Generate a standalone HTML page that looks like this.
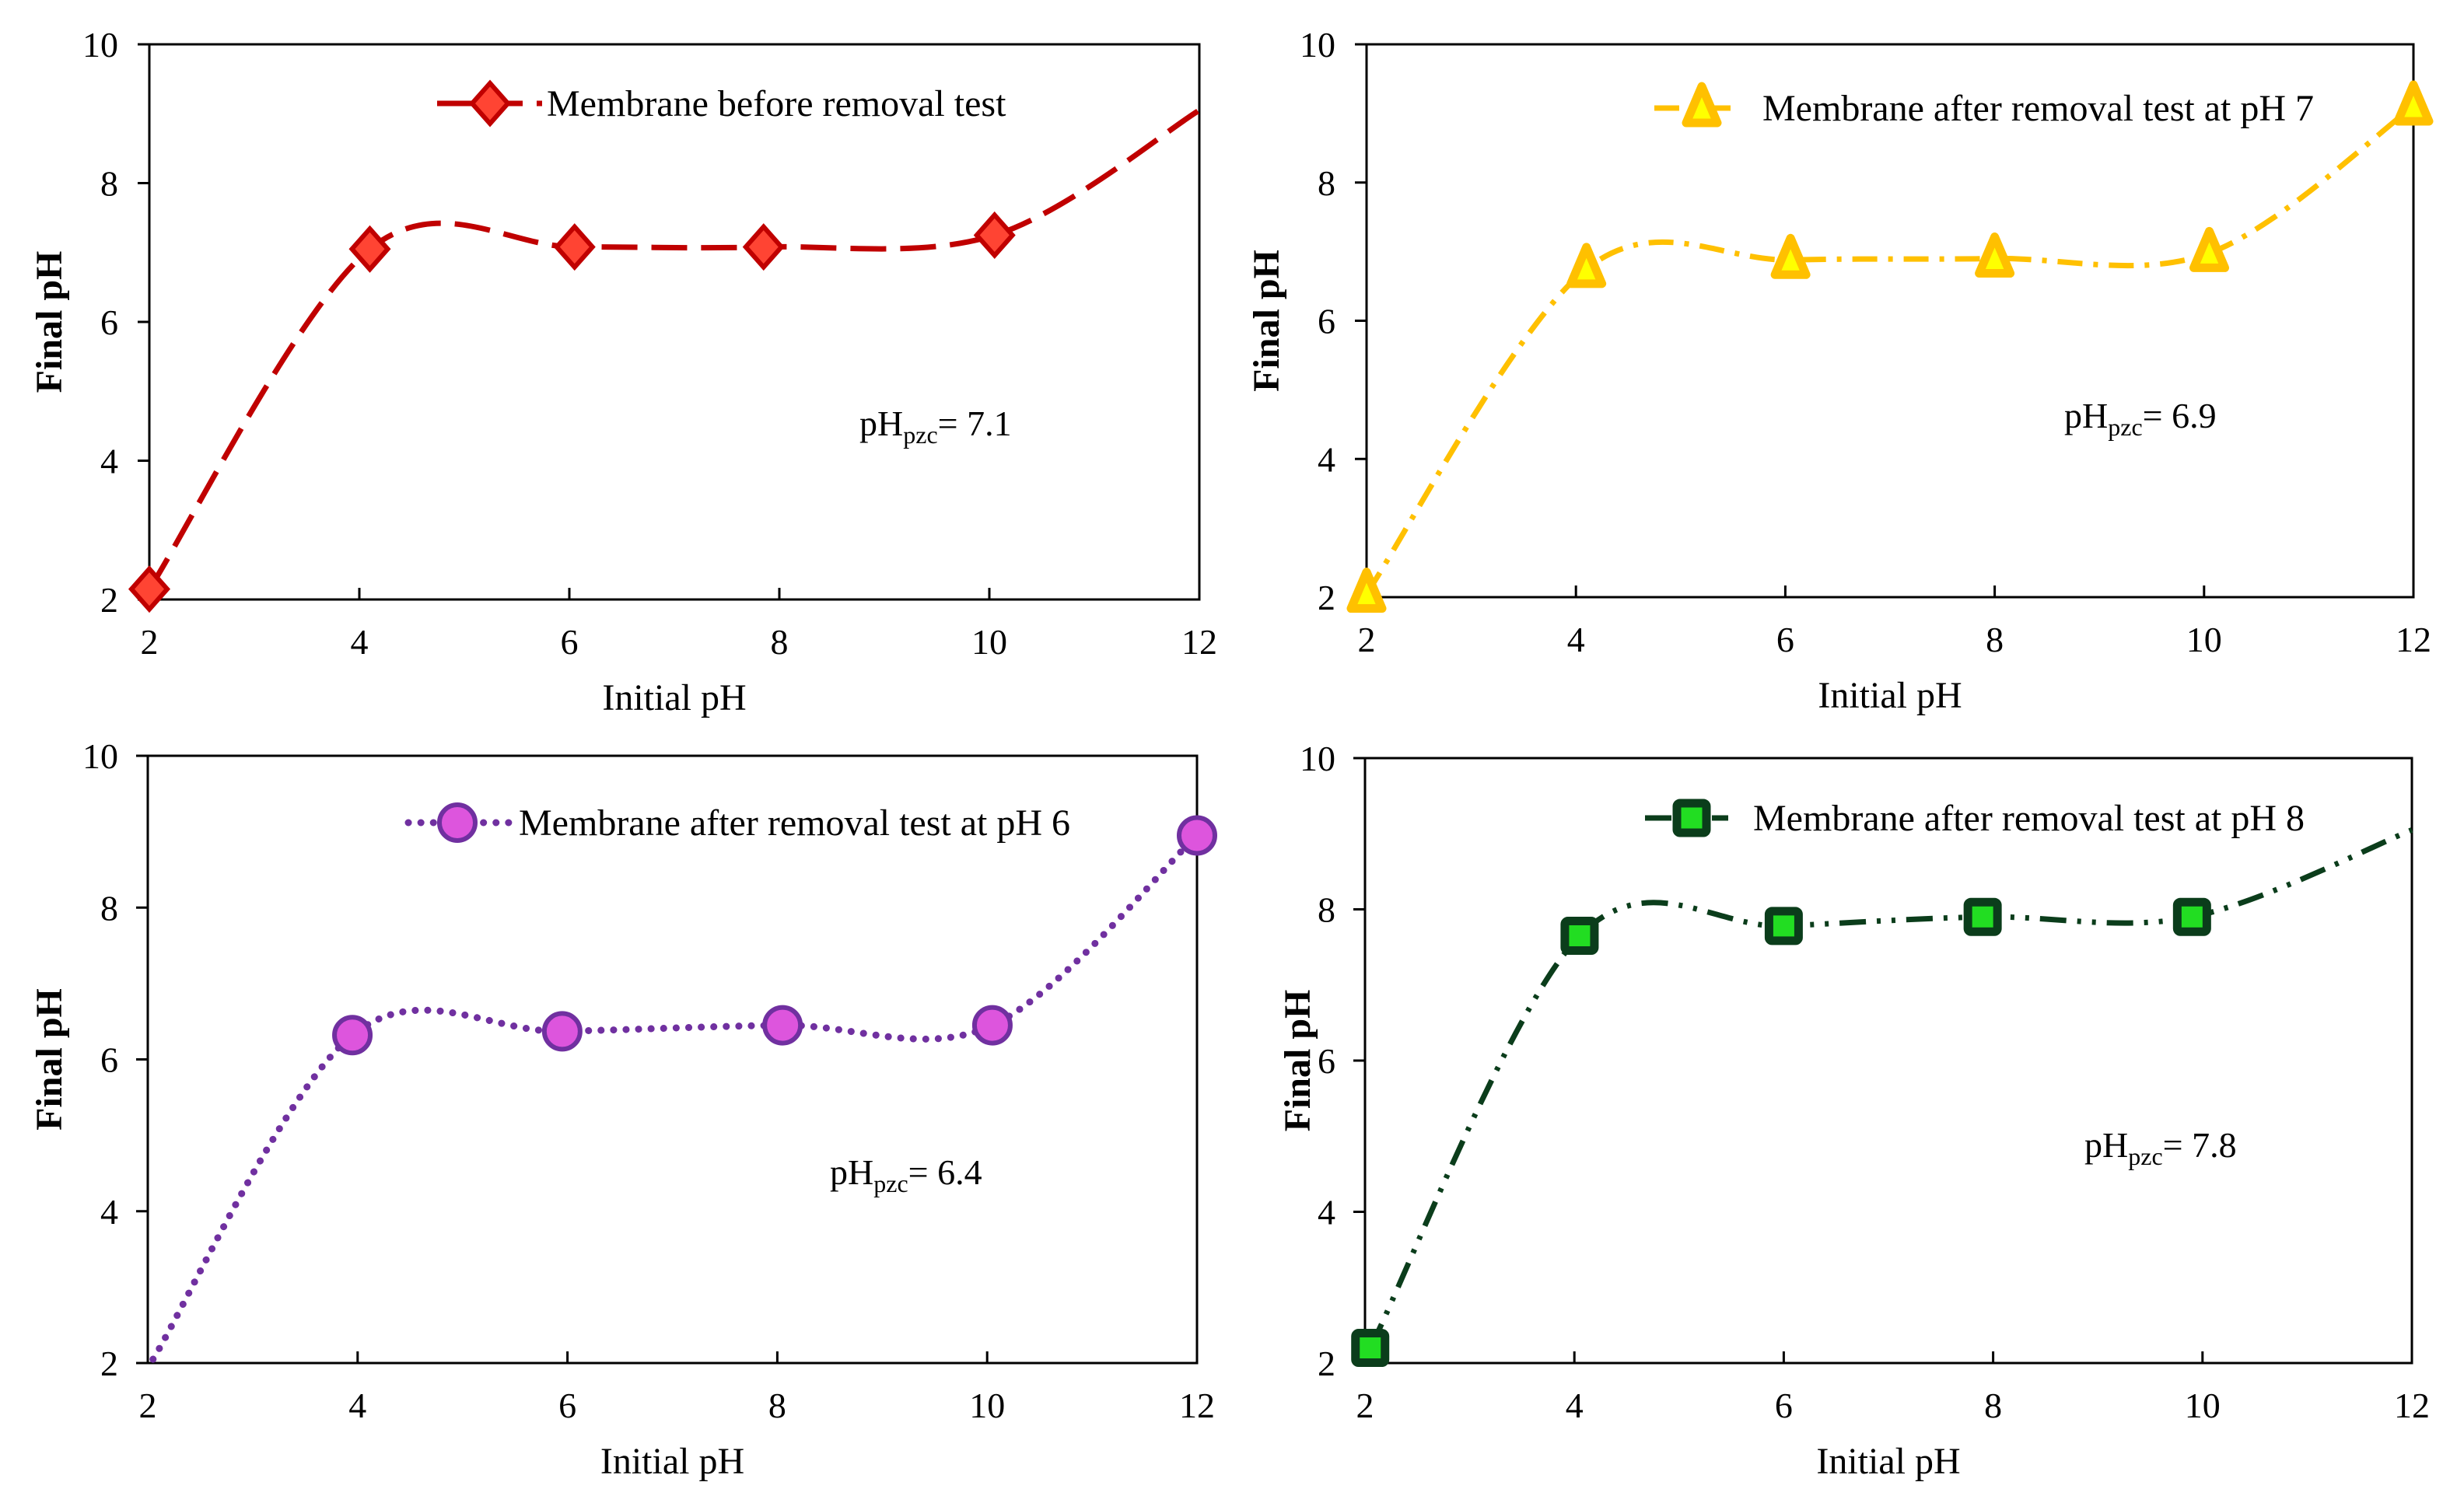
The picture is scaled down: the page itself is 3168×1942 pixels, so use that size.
<!DOCTYPE html>
<html><head><meta charset="utf-8">
<style>
html,body{margin:0;padding:0;background:#fff;}
svg{display:block;}
text{font-family:"Liberation Serif","Times New Roman",serif;fill:#000;}
</style></head>
<body>
<svg id="chart" width="3168" height="1942" viewBox="0 0 3168 1942" xmlns="http://www.w3.org/2000/svg"></svg>
<script>
// ---- data ----
const xTicks = [2,4,6,8,10,12];
const yTicks = [2,4,6,8,10];
const xA = [2,4.1,6.05,7.85,10.05,12];
const yA = [2.15,7.05,7.08,7.08,7.25,9.05];
const mA = [1,1,1,1,1,0];
const xB = [2,4.1,6.05,8.0,10.05,12];
const yB = [2.05,6.75,6.88,6.9,6.98,9.1];
const mB = [1,1,1,1,1,1];
const xC = [2.05,3.95,5.95,8.05,10.05,12];
const yC = [2.05,6.32,6.37,6.45,6.45,8.95];
const mC = [0,1,1,1,1,1];
const xD = [2.05,4.05,6.0,7.9,9.9,12];
const yD = [2.2,7.65,7.78,7.9,7.9,9.05];
const mD = [1,1,1,1,1,0];
const legendLabels = ["Membrane before removal test","Membrane after removal test at pH 7","Membrane after removal test at pH 6","Membrane after removal test at pH 8"];
const pzcValues = ["7.1","6.9","6.4","7.8"];

const NS="http://www.w3.org/2000/svg";
const svg=document.getElementById('chart');
function mk(tag,attrs,parent){const e=document.createElementNS(NS,tag);for(const k in attrs)e.setAttribute(k,attrs[k]);(parent||svg).appendChild(e);return e;}

const panels=[
 {id:'a',x0:192,x1:1542,y0:57,y1:771,xs:xA,ys:yA,ms:mA,color:'#C00000',fill:'#FF4433',marker:'diamond',dash:'46 18',width:7,cap:'butt',
  leg:{x1:562,x2:697,mx:630,y:133,tx:703},pzc:{x:1105,y:560},yt:63,ytr:152},
 {id:'b',x0:1757,x1:3103,y0:57,y1:768,xs:xB,ys:yB,ms:mB,color:'#FFC000',fill:'#FFFF00',marker:'triangle',dash:'32 14 6 14',width:7,cap:'butt',
  leg:{x1:2127,x2:2232,mx:2188,y:139,tx:2266},pzc:{x:2654,y:550},yt:1628,ytr:1717},
 {id:'c',x0:190,x1:1539,y0:972,y1:1753,xs:xC,ys:yC,ms:mC,color:'#7030A0',fill:'#DD55DD',marker:'circle',dash:'0.1 16',width:9,cap:'round',
  leg:{x1:525,x2:657,mx:588,y:1058,tx:667},pzc:{x:1067,y:1523},yt:63,ytr:152},
 {id:'d',x0:1755,x1:3101,y0:975,y1:1753,xs:xD,ys:yD,ms:mD,color:'#0B3D1B',fill:'#22DD22',marker:'square',dash:'34 14 5 14 5 14',width:7,cap:'butt',
  leg:{x1:2115,x2:2222,mx:2175,y:1052,tx:2254},pzc:{x:2680,y:1488},yt:1668,ytr:1717}
];

function drawMarker(g,p,cx,cy,name){
 let e;
 if(p.marker==='diamond') e=mk('polygon',{points:`${cx},${cy-26} ${cx+23},${cy} ${cx},${cy+26} ${cx-23},${cy}`,fill:p.fill,stroke:p.color,'stroke-width':6},g);
 else if(p.marker==='triangle') e=mk('polygon',{points:`${cx},${cy-28} ${cx+20},${cy+19} ${cx-20},${cy+19}`,fill:p.fill,stroke:p.color,'stroke-width':11,'stroke-linejoin':'round'},g);
 else if(p.marker==='circle') e=mk('circle',{cx:cx,cy:cy,r:23,fill:p.fill,stroke:p.color,'stroke-width':6},g);
 else e=mk('rect',{x:cx-19,y:cy-19,width:38,height:38,fill:p.fill,stroke:p.color,'stroke-width':11,rx:4},g);
 
 
}

panels.forEach((p,pi)=>{
 const g=mk('g',{});
 
 
 const sx=v=>p.x0+(v-2)/10*(p.x1-p.x0);
 const sy=v=>p.y1-(v-2)/8*(p.y1-p.y0);
 const frame=mk('rect',{x:p.x0,y:p.y0,width:p.x1-p.x0,height:p.y1-p.y0,fill:'none',stroke:'#000','stroke-width':3},g);
 
 
 xTicks.forEach(t=>{
  const X=sx(t);
  const tk=mk('line',{x1:X,x2:X,y1:p.y1,y2:p.y1-15,stroke:'#000','stroke-width':3},g);
  
  
  const lb=mk('text',{x:X,y:p.y1+70,'text-anchor':'middle','font-size':46},g);
  lb.textContent=t;
  
  
 });
 yTicks.forEach(t=>{
  const Y=sy(t);
  const tk=mk('line',{x1:p.x0-15,x2:p.x0,y1:Y,y2:Y,stroke:'#000','stroke-width':3},g);
  
  
  const lb=mk('text',{x:p.ytr,y:Y+16,'text-anchor':'end','font-size':46},g);
  lb.textContent=t;
  
  
 });
 const xt=mk('text',{x:(p.x0+p.x1)/2,y:p.y1+142,'text-anchor':'middle','font-size':48},g);
 xt.textContent='Initial pH';
 
 
 const ym=(p.y0+p.y1)/2;
 const yt=mk('text',{x:p.yt,y:ym,'text-anchor':'middle','font-size':48,'font-weight':'bold',transform:`rotate(-90 ${p.yt} ${ym}) translate(0 16)`},g);
 yt.textContent='Final pH';
 
 
 const pts=p.xs.map((v,i)=>[sx(v),sy(p.ys[i])]);
 let d=`M${pts[0][0]},${pts[0][1]}`;
 const tens=1/3;
 for(let i=0;i<pts.length-1;i++){
  const p0=pts[Math.max(0,i-1)],p1=pts[i],p2=pts[i+1],p3=pts[Math.min(pts.length-1,i+2)];
  const c1=[p1[0]+(p2[0]-p0[0])*tens/2,p1[1]+(p2[1]-p0[1])*tens/2];
  const c2=[p2[0]-(p3[0]-p1[0])*tens/2,p2[1]-(p3[1]-p1[1])*tens/2];
  d+=` C${c1[0]},${c1[1]} ${c2[0]},${c2[1]} ${p2[0]},${p2[1]}`;
 }
 const line=mk('path',{d:d,fill:'none',stroke:p.color,'stroke-width':p.width,'stroke-dasharray':p.dash,'stroke-linecap':p.cap},g);
 
 
 pts.forEach((q,i)=>{ if(p.ms[i]) drawMarker(g,p,q[0],q[1],'data-point'); });
 const lg=mk('g',{},g);
 
 
 const ll=mk('line',{x1:p.leg.x1,x2:p.leg.x2,y1:p.leg.y,y2:p.leg.y,stroke:p.color,'stroke-width':p.width,'stroke-dasharray':p.dash,'stroke-linecap':p.cap},lg);
 
 
 drawMarker(lg,p,p.leg.mx,p.leg.y,'legend-marker');
 const lt=mk('text',{x:p.leg.tx,y:p.leg.y+16,'font-size':48},lg);
 lt.textContent=legendLabels[pi];
 
 
 const at=mk('text',{x:p.pzc.x,y:p.pzc.y,'font-size':46},g);
 
 
 const s1=mk('tspan',{},at); s1.textContent='pH';
 const s2=mk('tspan',{'font-size':32,dy:10},at); s2.textContent='pzc';
 const s3=mk('tspan',{dy:-10},at); s3.textContent='= '+pzcValues[pi];
});
</script>
</body></html>
